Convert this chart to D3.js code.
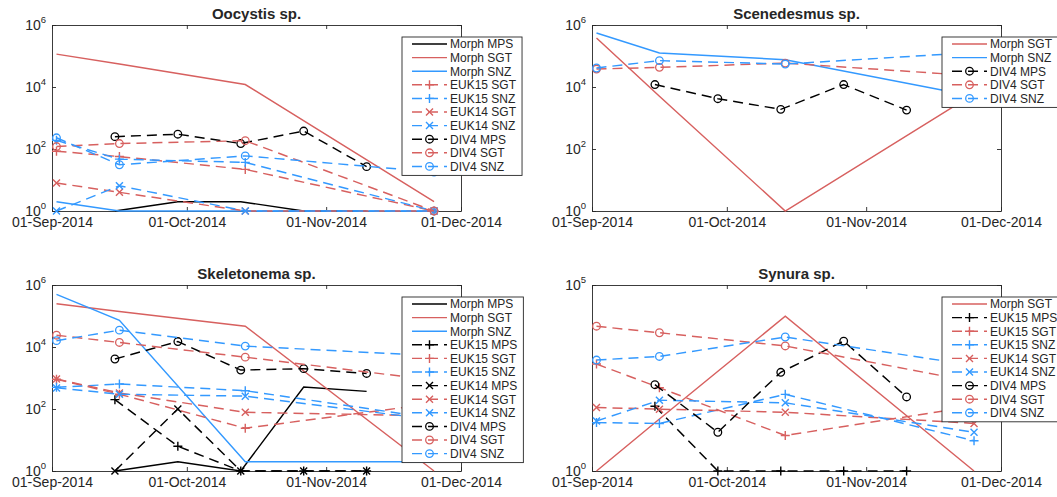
<!DOCTYPE html>
<html>
<head>
<meta charset="utf-8">
<script src="https://cdn.jsdelivr.net/npm/d3@7"></script>
<style>
body { margin: 0; background: #fff; }
text { font-family: "Liberation Sans", Arial, Helvetica, sans-serif; fill: #262626; }
</style>
</head>
<body>
<div id="chart"></div>
<script>

/*
    sampling dates and values (cells/L, log axis)
*/

var datesMPS = ["2014-09-15", "2014-09-29", "2014-10-13", "2014-10-27", "2014-11-10"];
var datesSite = ["2014-09-02", "2014-09-16", "2014-10-14", "2014-11-25"];   // SGT and SNZ
var xTickDates = ["2014-09-01", "2014-10-01", "2014-11-01", "2014-12-01"];
var yTicksWide = [1, 1e2, 1e4, 1e6];
var yTicksNarrow = [1, 1e5];

// Oocystis sp.
var oocMorphMPS = [1, 2, 2, 1, 1];
var oocMorphSGT = [1.15e5, 5.5e4, 1.2e4, 2];
var oocMorphSNZ = [2, 1, 1, 1];
var oocEuk15SGT = [85, 57, 22, 1];
var oocEuk15SNZ = [190, 47, 37, 1];
var oocEuk14SGT = [8, 4, 1, 1];
var oocEuk14SNZ = [1, 6.5, 1, 1];
var oocDiv4MPS = [250, 300, 150, 380, 27];
var oocDiv4SGT = [120, 150, 185, 1];
var oocDiv4SNZ = [230, 31, 60, 18];

// Scenedesmus sp.
var sceMorphSGT = [3.8e5, 5e3, 1, 6e3];
var sceMorphSNZ = [5.5e5, 1.25e5, 7.6e4, 5e3];
var sceDiv4MPS = [1.2e4, 4.2e3, 1.9e3, 1.2e4, 1.8e3];
var sceDiv4SGT = [3.8e4, 4.3e4, 5.9e4, 2.3e4];
var sceDiv4SNZ = [4.1e4, 7.1e4, 5.5e4, 1.3e5];

// Skeletonema sp.
var skeMorphMPS = [1, 2, 1, 510, 370];
var skeMorphSGT = [2.5e5, 1.4e5, 4.7e4, 1];
var skeMorphSNZ = [5e5, 7.3e4, 2, 2];
var skeEuk15MPS = [200, 6.3, 1, 1, 1];
var skeEuk15SGT = [910, 300, 24, 150];
var skeEuk15SNZ = [500, 640, 390, 50];
var skeEuk14MPS = [1, 100, 1, 1, 1];
var skeEuk14SGT = [930, 330, 78, 60];
var skeEuk14SNZ = [480, 300, 260, 45];
var skeDiv4MPS = [4.1e3, 1.5e4, 1.8e3, 2e3, 1.4e3];
var skeDiv4SGT = [2.4e4, 1.4e4, 4.7e3, 850];
var skeDiv4SNZ = [1.6e4, 3.5e4, 1.07e4, 5.2e3];

// Synura sp.
var synMorphSGT = [1, 25, 1.45e4, 1];
var synEuk15MPS = [55, 1, 1, 1, 1];
var synEuk15SGT = [750, 174, 9, 55];
var synEuk15SNZ = [20, 19, 115, 6.5];
var synEuk14SGT = [51, 46, 38, 19];
var synEuk14SNZ = [22, 80, 68, 11];
var synDiv4MPS = [209, 11, 450, 3.1e3, 98];
var synDiv4SGT = [7.8e3, 5.2e3, 2.3e3, 250];
var synDiv4SNZ = [960, 1.2e3, 4e3, 690];

var panels = [
    {title: "Oocystis sp.", col: 0, row: 0, yMax: 1e6, yTicks: yTicksWide, series: [
        ["Morph MPS", oocMorphMPS], ["Morph SGT", oocMorphSGT], ["Morph SNZ", oocMorphSNZ],
        ["EUK15 SGT", oocEuk15SGT], ["EUK15 SNZ", oocEuk15SNZ],
        ["EUK14 SGT", oocEuk14SGT], ["EUK14 SNZ", oocEuk14SNZ],
        ["DIV4 MPS", oocDiv4MPS], ["DIV4 SGT", oocDiv4SGT], ["DIV4 SNZ", oocDiv4SNZ]]},
    {title: "Scenedesmus sp.", col: 1, row: 0, yMax: 1e6, yTicks: yTicksWide, series: [
        ["Morph SGT", sceMorphSGT], ["Morph SNZ", sceMorphSNZ],
        ["DIV4 MPS", sceDiv4MPS], ["DIV4 SGT", sceDiv4SGT], ["DIV4 SNZ", sceDiv4SNZ]]},
    {title: "Skeletonema sp.", col: 0, row: 1, yMax: 1e6, yTicks: yTicksWide, series: [
        ["Morph MPS", skeMorphMPS], ["Morph SGT", skeMorphSGT], ["Morph SNZ", skeMorphSNZ],
        ["EUK15 MPS", skeEuk15MPS], ["EUK15 SGT", skeEuk15SGT], ["EUK15 SNZ", skeEuk15SNZ],
        ["EUK14 MPS", skeEuk14MPS], ["EUK14 SGT", skeEuk14SGT], ["EUK14 SNZ", skeEuk14SNZ],
        ["DIV4 MPS", skeDiv4MPS], ["DIV4 SGT", skeDiv4SGT], ["DIV4 SNZ", skeDiv4SNZ]]},
    {title: "Synura sp.", col: 1, row: 1, yMax: 1e5, yTicks: yTicksNarrow, series: [
        ["Morph SGT", synMorphSGT],
        ["EUK15 MPS", synEuk15MPS], ["EUK15 SGT", synEuk15SGT], ["EUK15 SNZ", synEuk15SNZ],
        ["EUK14 SGT", synEuk14SGT], ["EUK14 SNZ", synEuk14SNZ],
        ["DIV4 MPS", synDiv4MPS], ["DIV4 SGT", synDiv4SGT], ["DIV4 SNZ", synDiv4SNZ]]}
];

// layout of the 2x2 grid
var colLeft = [52, 592], rowTop = [25, 285];
var plotW = 409, plotH = 186;
var axisColor = "#262626";
var lineW = 1.45;

var siteColor = {MPS: "#000000", SGT: "#d7605f", SNZ: "#3399ff"};
var sourceMarker = {Morph: null, EUK15: "+", EUK14: "x", DIV4: "o"};

var parseDate = d3.utcParse("%Y-%m-%d");
var fmtDate = d3.utcFormat("%d-%b-%Y");

var svg = d3.select("#chart").append("svg")
    .attr("width", 1057)
    .attr("height", 497);

function styleOf(name) {
    var parts = name.split(" ");
    return {
        color: siteColor[parts[1]],
        marker: sourceMarker[parts[0]],
        dashed: parts[0] != "Morph",
        dates: parts[1] == "MPS" ? datesMPS : datesSite
    };
}

function addMarker(g, type, color) {
    if (type == "o") {
        g.append("circle").attr("r", 3.8)
            .attr("fill", "none").attr("stroke", color).attr("stroke-width", 1.3);
    } else if (type == "+") {
        g.append("path").attr("d", "M-4.5,0H4.5M0,-4.5V4.5")
            .attr("stroke", color).attr("stroke-width", 1.4);
    } else if (type == "x") {
        g.append("path").attr("d", "M-3.5,-3.5L3.5,3.5M-3.5,3.5L3.5,-3.5")
            .attr("stroke", color).attr("stroke-width", 1.4);
    }
}

panels.forEach(function(p) {
    var left = colLeft[p.col], top = rowTop[p.row];
    var g = svg.append("g").attr("transform", "translate(" + left + "," + top + ")");

    var x = d3.scaleUtc()
        .domain([parseDate(xTickDates[0]), parseDate(xTickDates[xTickDates.length - 1])])
        .range([0, plotW]);
    var y = d3.scaleLog()
        .domain([1, p.yMax])
        .range([plotH, 0]);

    // axes box, ticks pointing inwards
    var xBottom = g.append("g")
        .attr("transform", "translate(0," + plotH + ")")
        .call(d3.axisBottom(x).tickValues(xTickDates.map(parseDate)).tickFormat(fmtDate)
            .tickSizeInner(-4).tickSizeOuter(0).tickPadding(6));
    g.append("g")
        .call(d3.axisTop(x).tickValues(xTickDates.map(parseDate)).tickFormat("")
            .tickSizeInner(-4).tickSizeOuter(0));
    g.append("g")
        .call(d3.axisLeft(y).tickValues(p.yTicks).tickFormat("")
            .tickSizeInner(-4).tickSizeOuter(0));
    g.append("g")
        .attr("transform", "translate(" + plotW + ",0)")
        .call(d3.axisRight(y).tickValues(p.yTicks).tickFormat("")
            .tickSizeInner(-4).tickSizeOuter(0));

    g.selectAll(".domain, .tick line").attr("stroke", axisColor).attr("stroke-width", 0.9);
    xBottom.selectAll("text").attr("font-size", 14).attr("fill", axisColor)
        .attr("font-family", "'Liberation Sans', Arial, sans-serif");

    // 10^n labels
    var ylab = g.selectAll(".ylab")
        .data(p.yTicks)
        .enter().append("text")
        .attr("class", "ylab")
        .attr("x", -6)
        .attr("y", function(d) { return y(d) + 4.5; })
        .attr("text-anchor", "end")
        .attr("font-size", 14);
    ylab.append("tspan").text("10");
    ylab.append("tspan")
        .attr("dy", -7)
        .attr("font-size", 9.5)
        .text(function(d) { return Math.round(Math.log10(d)); });

    // title
    g.append("text")
        .attr("x", plotW / 2)
        .attr("y", -6)
        .attr("text-anchor", "middle")
        .attr("font-size", 15)
        .attr("font-weight", "bold")
        .attr("fill", "#000")
        .text(p.title);

    // the lines
    var line = d3.line()
        .x(function(d) { return x(d.date); })
        .y(function(d) { return y(d.value); });

    p.series.forEach(function(s) {
        var st = styleOf(s[0]);
        var pts = s[1].map(function(v, k) { return {date: parseDate(st.dates[k]), value: v}; });

        g.append("path")
            .datum(pts)
            .attr("d", line)
            .attr("fill", "none")
            .attr("stroke", st.color)
            .attr("stroke-width", lineW)
            .attr("stroke-dasharray", st.dashed ? "10,6" : null);

        if (st.marker) {
            g.selectAll(null)
                .data(pts)
                .enter().append("g")
                .attr("transform", function(d) { return "translate(" + x(d.date) + "," + y(d.value) + ")"; })
                .each(function() { addMarker(d3.select(this), st.marker, st.color); });
        }
    });

    // legend
    var rowH = 13.6;
    var lg = svg.append("g")
        .attr("transform", "translate(" + (left + plotW - 59) + "," + (top + 12) + ")");
    var box = lg.append("rect")
        .attr("fill", "#fff")
        .attr("stroke", axisColor)
        .attr("stroke-width", 0.9)
        .attr("height", p.series.length * rowH + 2.4);

    var maxW = 0;
    p.series.forEach(function(s, k) {
        var st = styleOf(s[0]);
        var cy = 7 + k * rowH;
        var item = lg.append("g").attr("transform", "translate(0," + cy + ")");
        item.append("line")
            .attr("x1", 10).attr("x2", 45)
            .attr("stroke", st.color)
            .attr("stroke-width", lineW)
            .attr("stroke-dasharray", st.dashed ? "10,6" : null);
        if (st.marker) {
            addMarker(item.append("g").attr("transform", "translate(27.5,0)"), st.marker, st.color);
        }
        var t = item.append("text")
            .attr("x", 48)
            .attr("y", 4.3)
            .attr("font-size", 12)
            .text(s[0]);
        maxW = Math.max(maxW, t.node().getComputedTextLength());
    });
    box.attr("width", 48 + maxW + 6);
});

</script>
</body>
</html>
